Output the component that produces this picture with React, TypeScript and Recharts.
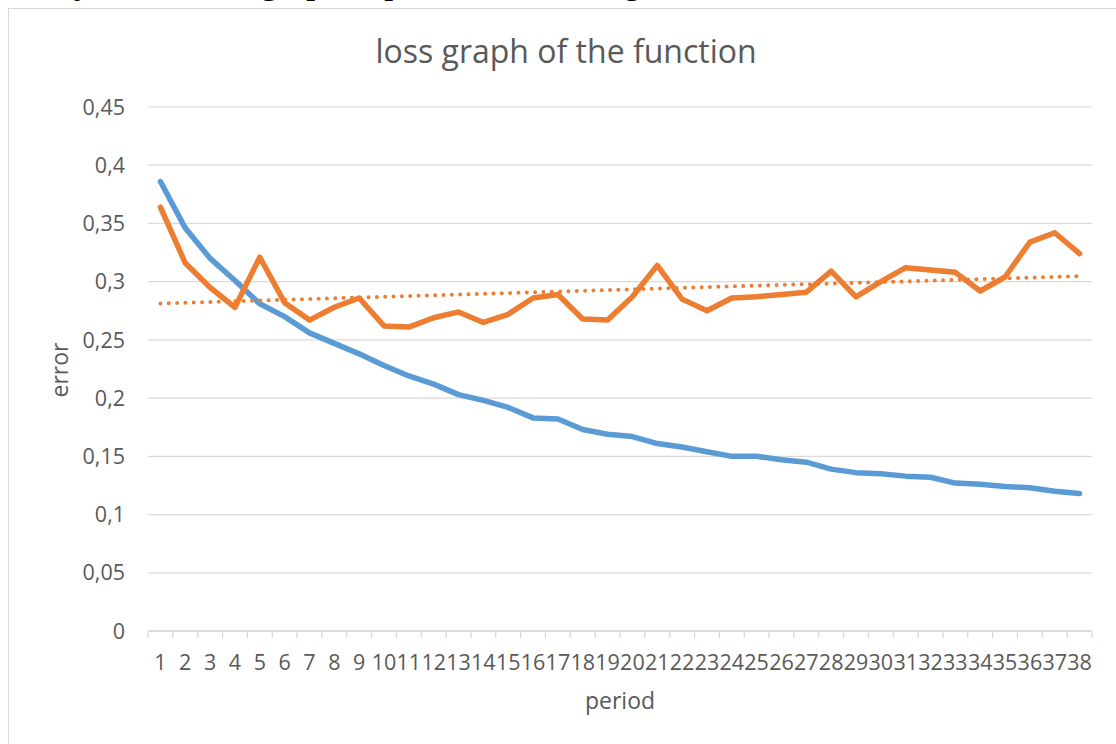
import { LineChart, Line, XAxis, YAxis, CartesianGrid } from "recharts";

const periods = [
  1, 2, 3, 4, 5, 6, 7, 8, 9, 10, 11, 12, 13, 14, 15, 16, 17, 18, 19,
  20, 21, 22, 23, 24, 25, 26, 27, 28, 29, 30, 31, 32, 33, 34, 35, 36, 37, 38,
];

// blue series: training error per period
const trainLoss = [
  0.386, 0.346, 0.32, 0.301, 0.281, 0.27, 0.256, 0.247, 0.238, 0.228,
  0.219, 0.212, 0.203, 0.198, 0.192, 0.183, 0.182, 0.173, 0.169, 0.167,
  0.161, 0.158, 0.154, 0.15, 0.15, 0.147, 0.145, 0.139, 0.136, 0.135,
  0.133, 0.132, 0.127, 0.126, 0.124, 0.123, 0.12, 0.118,
];

// orange series: validation error per period
const validLoss = [
  0.364, 0.316, 0.295, 0.278, 0.321, 0.282, 0.267, 0.278, 0.286, 0.262,
  0.261, 0.269, 0.274, 0.265, 0.272, 0.286, 0.289, 0.268, 0.267, 0.287,
  0.314, 0.285, 0.275, 0.286, 0.287, 0.289, 0.291, 0.309, 0.287, 0.3,
  0.312, 0.31, 0.308, 0.292, 0.304, 0.334, 0.342, 0.324,
];

const yTicks = [0, 0.05, 0.1, 0.15, 0.2, 0.25, 0.3, 0.35, 0.4, 0.45];

// least-squares straight line, same as a spreadsheet "linear trendline"
function linearTrend(xs: number[], ys: number[]) {
  const n = xs.length;
  const mx = xs.reduce((a, b) => a + b, 0) / n;
  const my = ys.reduce((a, b) => a + b, 0) / n;
  let sxy = 0;
  let sxx = 0;
  xs.forEach((x, i) => {
    sxy += (x - mx) * (ys[i] - my);
    sxx += (x - mx) * (x - mx);
  });
  const slope = sxy / sxx;
  return xs.map((x) => my + slope * (x - mx));
}

const trend = linearTrend(periods, validLoss);

const rows = periods.map((period, i) => ({
  period,
  train: trainLoss[i],
  valid: validLoss[i],
  trend: trend[i],
}));

// category boundaries, where the little axis ticks sit
const tickEdges = [...periods.map((p) => p - 0.5), periods[periods.length - 1] + 0.5];
const xDomain = [tickEdges[0], tickEdges[tickEdges.length - 1]];

const FONT = '"Open Sans", sans-serif';
const GREY = "#595959";
const GRID = "#d9d9d9";
const BLUE = "#5B9BD5";
const ORANGE = "#ED7D31";

const fmt = (v: number) => String(v).replace(".", ",");
const NoLabel = () => <g />;

export default function App() {
  return (
    <div style={{ position: "fixed", inset: 0, overflow: "hidden", background: "#fff" }}>
      <div
        style={{
          position: "absolute",
          left: 8,
          top: -37,
          fontFamily: '"Liberation Serif", serif',
          fontSize: 36,
          lineHeight: "36px",
          color: "#000",
          whiteSpace: "nowrap",
        }}
      >
        Study_error. The graph is presented in a Figure 3.4.
      </div>

      <div
        style={{
          position: "absolute",
          left: 8,
          top: 8,
          width: 1116,
          height: 744,
          border: `1px solid ${GRID}`,
          boxSizing: "border-box",
          fontFamily: FONT,
          color: GREY,
        }}
      >
        <div
          style={{
            position: "absolute",
            left: 0,
            right: 0,
            top: 26,
            textAlign: "center",
            fontSize: 32,
            lineHeight: "32px",
          }}
        >
          loss graph of the function
        </div>

        <div
          style={{
            position: "absolute",
            left: 50,
            top: 361,
            transform: "translate(-50%, -50%) rotate(-90deg)",
            fontSize: 23,
            lineHeight: "23px",
            whiteSpace: "nowrap",
          }}
        >
          error
        </div>

        <div
          style={{
            position: "absolute",
            left: 611,
            top: 680,
            transform: "translateX(-50%)",
            fontSize: 23,
            lineHeight: "23px",
            whiteSpace: "nowrap",
          }}
        >
          period
        </div>

        <LineChart
          width={1114}
          height={742}
          data={rows}
          margin={{ top: 98, right: 31, bottom: 59, left: 0 }}
        >
          <CartesianGrid xAxisId="main" vertical={false} stroke={GRID} strokeWidth={1.2} />
          <XAxis
            xAxisId="frame"
            dataKey="period"
            type="number"
            domain={xDomain}
            ticks={tickEdges}
            interval={0}
            tick={NoLabel}
            height={1}
            tickSize={7}
            axisLine={{ stroke: GRID, strokeWidth: 1.3 }}
            tickLine={{ stroke: GRID, strokeWidth: 1.3 }}
          />
          <XAxis
            xAxisId="main"
            dataKey="period"
            type="number"
            domain={xDomain}
            ticks={periods}
            interval={0}
            height={60}
            axisLine={false}
            tickLine={false}
            tickSize={6}
            tickMargin={17}
            tick={{ fill: GREY, fontSize: 21.5, fontFamily: FONT }}
          />
          <YAxis
            domain={[0, 0.45]}
            ticks={yTicks}
            interval={0}
            width={139}
            axisLine={false}
            tickLine={false}
            tickSize={6}
            tickMargin={17}
            tickFormatter={fmt}
            tick={{ fill: GREY, fontSize: 21.5, fontFamily: FONT }}
          />
          <Line
            xAxisId="main"
            type="linear"
            dataKey="train"
            stroke={BLUE}
            strokeWidth={5.5}
            strokeLinejoin="round"
            strokeLinecap="round"
            dot={false}
            isAnimationActive={false}
          />
          <Line
            xAxisId="main"
            type="linear"
            dataKey="valid"
            stroke={ORANGE}
            strokeWidth={5.5}
            strokeLinejoin="round"
            strokeLinecap="round"
            dot={false}
            isAnimationActive={false}
          />
          <Line
            xAxisId="main"
            type="linear"
            dataKey="trend"
            stroke={ORANGE}
            strokeWidth={4}
            strokeDasharray="0 8.33"
            strokeLinecap="round"
            dot={false}
            isAnimationActive={false}
          />
        </LineChart>
      </div>
    </div>
  );
}
